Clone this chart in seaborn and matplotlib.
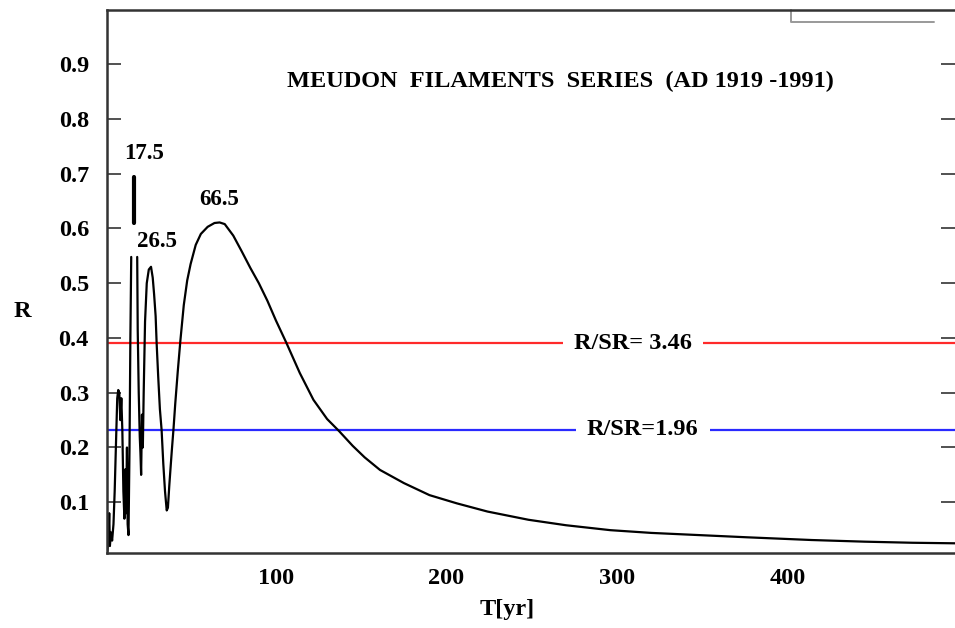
import numpy as np
import pandas as pd
import matplotlib
matplotlib.use("Agg")
import matplotlib.pyplot as plt
import seaborn as sns
from matplotlib.lines import Line2D

# ---- data ----
# left part (short periods), before the unresolved 17.5 peak
T_left = [1.2, 1.8, 2.3, 2.7, 3.3, 4.0, 4.8, 5.5, 6.2, 7.0, 7.6, 8.2, 8.8, 9.4,
          10.0, 10.6, 11.2, 11.7, 12.2, 12.7, 13.1, 13.6, 14.2, 14.7, 15.2]
R_left = [0.010, 0.030, 0.080, 0.020, 0.045, 0.030, 0.060, 0.120, 0.200, 0.290,
          0.305, 0.300, 0.250, 0.290, 0.230, 0.120, 0.070, 0.160, 0.080, 0.200,
          0.060, 0.040, 0.200, 0.400, 0.548]
# right part (after the 17.5 peak)
T_right = [18.7, 19.0, 19.6, 20.2, 20.6, 21.0, 21.5, 22.0, 22.5, 23.3, 24.3, 25.5,
           26.8, 27.8, 28.6, 29.5, 30.1, 31.0, 32.0, 33.0, 34.0, 35.0, 36.0, 36.7,
           37.5, 38.3, 39.0, 40.0, 41.0, 42.5, 44.0, 46.0, 48.0, 50.0, 53.0, 56.0,
           60.0, 64.0, 67.0, 70.0, 75.0, 80.0, 85.0, 90.0, 95.0, 100.0, 106.0,
           114.0, 122.0, 130.0, 137.0, 145.0, 152.0, 161.0, 175.0, 190.0, 206.0,
           224.0, 248.0, 270.0, 296.0, 320.0, 348.0, 376.0, 414.0, 445.0, 473.0, 498.0]
R_right = [0.548, 0.415, 0.300, 0.220, 0.190, 0.150, 0.260, 0.200, 0.300, 0.430,
           0.500, 0.525, 0.530, 0.510, 0.480, 0.440, 0.390, 0.330, 0.270, 0.232,
           0.170, 0.120, 0.085, 0.090, 0.130, 0.165, 0.195, 0.235, 0.280, 0.340,
           0.395, 0.460, 0.505, 0.535, 0.570, 0.590, 0.603, 0.610, 0.611, 0.608,
           0.587, 0.558, 0.528, 0.500, 0.468, 0.432, 0.392, 0.336, 0.287, 0.252,
           0.230, 0.203, 0.182, 0.159, 0.135, 0.113, 0.098, 0.083, 0.068, 0.058,
           0.049, 0.044, 0.040, 0.036, 0.031, 0.028, 0.026, 0.025]
# top of the sharp 17.5-yr peak
T_peak = [17.0, 17.0]
R_peak = [0.610, 0.694]

# significance levels
levels = [0.390, 0.232]
level_labels = ["R/SR= 3.46", "R/SR=1.96"]
level_colors = ["#ff2a2a", "#2a2aff"]
level_label_T = [309.5, 315.0]

peak_labels = ["17.5", "26.5", "66.5"]
peak_label_T = [22.5, 30.3, 66.6]
peak_label_R = [0.737, 0.576, 0.653]

x_ticks = [100, 200, 300, 400]
y_ticks = [0.1, 0.2, 0.3, 0.4, 0.5, 0.6, 0.7, 0.8, 0.9]

title = "MEUDON  FILAMENTS  SERIES  (AD 1919 -1991)"

# ---- plotting ----
sns.set_theme(style="white")
plt.rcParams["font.family"] = ["Liberation Serif", "DejaVu Serif"]
plt.rcParams["font.weight"] = "bold"
plt.rcParams["text.color"] = "black"
plt.rcParams["axes.labelcolor"] = "black"
FS = 17.5

fig = plt.figure(figsize=(9.55, 6.28), dpi=100)
ax = fig.add_axes([107 / 955, 75 / 628, 1 - 107 / 955, (553 - 10) / 628])

df = pd.DataFrame({
    "T": T_left + T_right,
    "R": R_left + R_right,
    "seg": [0] * len(T_left) + [1] * len(T_right),
})
sns.lineplot(data=df, x="T", y="R", units="seg", estimator=None, sort=False,
             color="black", lw=1.6, ax=ax)
sns.lineplot(x=T_peak, y=R_peak, color="black", lw=3.0, ax=ax, estimator=None,
             sort=False)

for lev, lab, col, xc in zip(levels, level_labels, level_colors, level_label_T):
    ax.axhline(lev, color=col, lw=1.6, zorder=1)
    ax.text(xc, lev, lab, ha="center", va="center", fontsize=FS,
            fontweight="bold", color="black", zorder=3,
            bbox=dict(facecolor="white", edgecolor="none", pad=8))

for lab, t, r in zip(peak_labels, peak_label_T, peak_label_R):
    ax.text(t, r, lab, ha="center", va="center", fontsize=16.5, fontweight="bold",
            color="black")

ax.text(267, 0.868, title, ha="center", va="center", fontsize=FS,
        fontweight="bold", color="black")

ax.set_xlim(1.0, 498)
ax.set_ylim(0.0073, 0.999)
ax.set_xticks(x_ticks)
ax.set_yticks(y_ticks)
ax.set_xticklabels([str(v) for v in x_ticks], fontsize=FS, fontweight="bold")
ax.set_yticklabels([f"{v:.1f}" for v in y_ticks], fontsize=FS, fontweight="bold")
ax.tick_params(axis="both", direction="in", length=10, width=1.2, colors="#333333",
               labelcolor="black")
ax.tick_params(axis="y", right=True, left=True, pad=13)
ax.tick_params(axis="x", pad=11)
ax.set_xlabel("T[yr]", fontsize=FS, fontweight="bold", va="center", color="black")
ax.xaxis.set_label_coords(0.472, -0.104)
ax.set_ylabel("R", fontsize=FS, fontweight="bold", rotation=0, va="center",
              ha="center", color="black")
ax.yaxis.set_label_coords(-0.100, 0.445)

for s in ["left", "bottom", "top"]:
    ax.spines[s].set_color("#333333")
    ax.spines[s].set_linewidth(1.8)
ax.spines["right"].set_visible(False)

# remnant legend frame at top right
ax.add_line(Line2D([0.807, 0.807, 0.975], [1.0, 0.978, 0.978], transform=ax.transAxes,
                   color="#999999", lw=1.4, clip_on=False))

fig.savefig("out.png", dpi=100)
